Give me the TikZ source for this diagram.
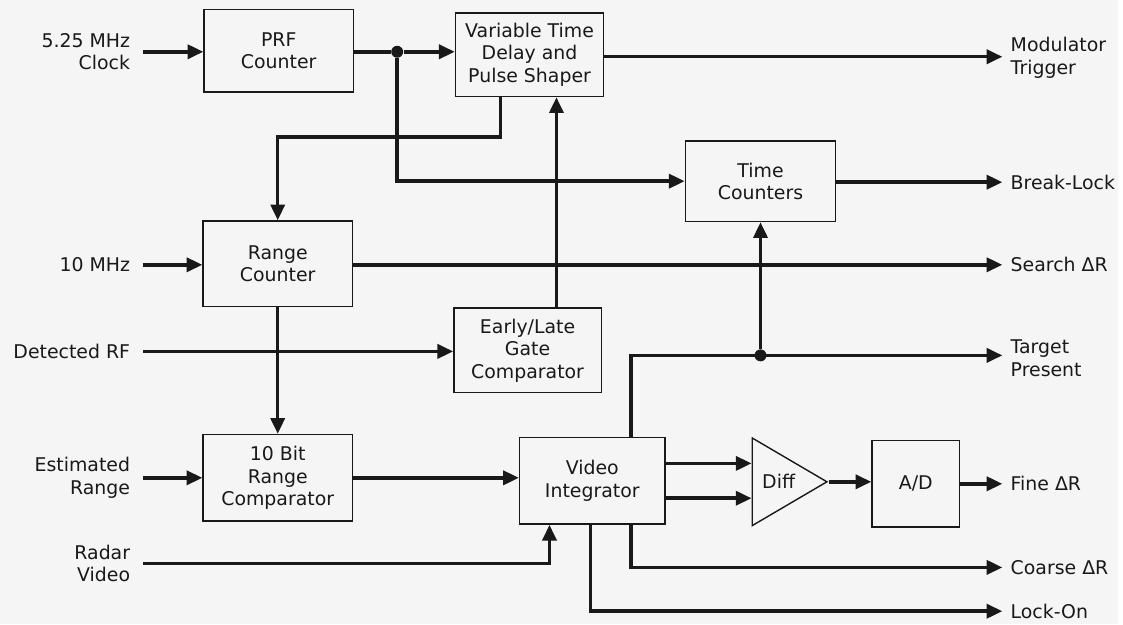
\documentclass[tikz,border=0pt]{standalone}
\usepackage{fontspec}
\setmainfont{DejaVu Sans}
\usetikzlibrary{arrows.meta,shapes.geometric}

\tikzset{
  blk/.style={draw, line width=0.8pt, align=center, inner sep=1pt},
  sig/.style={line width=2pt, -{Triangle[length=9pt,width=8pt]}},
  wire/.style={line width=2pt},
  lbl/.style={align=right, anchor=east, inner xsep=0.26cm, inner ysep=0pt},
  outlbl/.style={align=left, anchor=west, inner xsep=0.16cm, inner ysep=0pt},
  jdot/.style={circle, fill, inner sep=0pt, minimum size=0.24cm},
}

\begin{document}
\begin{tikzpicture}[x=0.02cm, y=-0.02cm, font=\fontsize{10.8}{12.8}\selectfont, color=black!90]
    \fill[black!4] (0,0) rectangle (1123,627);

    % blocks
    \node[blk, minimum width=3cm, minimum height=1.66cm] (prf) at (280,51) {PRF\\Counter};
    \node[blk, minimum width=2.98cm, minimum height=1.68cm] (vtd) at (532,55) {Variable Time\\Delay and\\Pulse Shaper};
    \node[blk, minimum width=3.02cm, minimum height=1.62cm] (timec) at (764,182) {Time\\Counters};
    \node[blk, minimum width=3cm, minimum height=1.72cm] (rangec) at (279,265) {Range\\Counter};
    \node[blk, minimum width=2.96cm, minimum height=1.7cm] (elg) at (530,352) {Early/Late\\Gate\\Comparator};
    \node[blk, minimum width=3cm, minimum height=1.74cm] (bitc) at (279,480) {10 Bit\\Range\\Comparator};
    \node[blk, minimum width=2.92cm, minimum height=1.74cm] (vint) at (595,483) {Video\\Integrator};
    \node[draw, line width=0.8pt, isosceles triangle, isosceles triangle stretches,
          minimum width=1.76cm, minimum height=1.5cm, inner sep=0pt, anchor=west] (diff) at (755,484) {Diff};
    \node[blk, minimum width=1.76cm, minimum height=1.74cm] (adc) at (920,486) {A/D};

    % inputs
    \node[lbl] (clk) at (144,52) {5.25 MHz\\Clock};
    \node[lbl] (tenm) at (144,266) {10 MHz};
    \node[lbl] (detrf) at (144,353) {Detected RF};
    \node[lbl] (estr) at (144,480) {Estimated\\Range};
    \node[lbl] (radv) at (144,566) {Radar\\Video};

    % outputs
    \node[outlbl] (modtrig) at (1007,58) {Modulator\\Trigger};
    \node[outlbl] (brklock) at (1007,183) {Break-Lock};
    \node[outlbl] (search) at (1007,266) {Search ΔR};
    \node[outlbl] (target) at (1007,360) {Target\\Present};
    \node[outlbl] (fine) at (1007,486) {Fine ΔR};
    \node[outlbl] (coarse) at (1007,570) {Coarse ΔR};
    \node[outlbl] (lockon) at (1007,614) {Lock-On};

    % junctions
    \node[jdot] (j1) at (399,52) {};
    \node[jdot] (j2) at (764,357) {};

    % connections
    \draw[sig] (clk.east) -- (clk.east -| prf.west);
    \draw[wire] (prf.east |- j1) -- (j1);
    \draw[sig] (j1) -- (j1 -| vtd.west);
    \draw[sig] (j1) |- (timec.west);
    \draw[sig] (vtd.east |- 0,57) -- (modtrig.west |- 0,57);
    \draw[sig] ([xshift=-0.58cm]vtd.south) -- ++(0,40) -| (rangec.north);
    \draw[sig] (timec.east |- brklock.west) -- (brklock.west);
    \draw[sig] (tenm.east) -- (tenm.east -| rangec.west);
    \draw[sig] (rangec.east |- search.west) -- (search.west);
    \draw[sig] ([xshift=0.58cm]elg.north) -- ([xshift=0.58cm]elg.north |- vtd.south);
    \draw[sig] (detrf.east) -- (detrf.east -| elg.west);
    \draw[sig] (rangec.south) -- (bitc.north);
    \draw[sig] (estr.east) -- (estr.east -| bitc.west);
    \draw[sig] (bitc.east) -- (bitc.east -| vint.west);
    \draw[sig] (radv.east) -| ([xshift=-0.86cm]vint.south);
    \draw[sig] ([xshift=0.78cm]vint.north) |- (j2 -| target.west);
    \draw[sig] (j2) -- (timec.south);
    \draw[sig] ([yshift=0.35cm]vint.east) -- ([yshift=0.35cm]vint.east -| diff.west);
    \draw[sig] ([yshift=-0.35cm]vint.east) -- ([yshift=-0.35cm]vint.east -| diff.west);
    \draw[sig] (diff.apex) -- (diff.apex -| adc.west);
    \draw[sig] (adc.east |- fine.west) -- (fine.west);
    \draw[sig] ([xshift=0.78cm]vint.south) |- (coarse.west);
    \draw[sig] ([xshift=-0.04cm]vint.south) |- (lockon.west);
\end{tikzpicture}
\end{document}
